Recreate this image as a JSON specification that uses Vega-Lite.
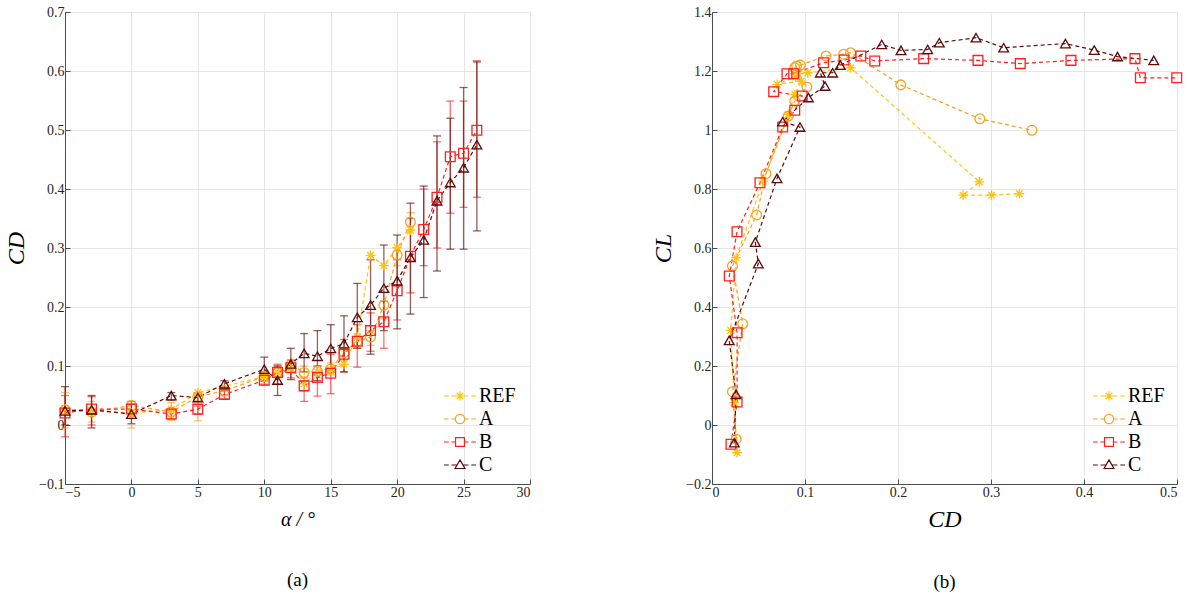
{
  "$schema": "https://vega.github.io/schema/vega-lite/v6.json",
  "autosize": {"type": "pad"},
  "padding": {"left": 4, "top": 4, "right": 5, "bottom": 5},
  "background": "white",
  "datasets": {
    "pts": [
      {"s": "REF", "a": -5, "cd": 0.027, "cl": -0.094},
      {"s": "REF", "a": -3, "cd": 0.024, "cl": 0.076},
      {"s": "REF", "a": 0, "cd": 0.020, "cl": 0.321},
      {"s": "REF", "a": 3, "cd": 0.026, "cl": 0.567},
      {"s": "REF", "a": 5, "cd": 0.055, "cl": 0.827},
      {"s": "REF", "a": 10, "cd": 0.082, "cl": 1.053},
      {"s": "REF", "a": 11, "cd": 0.089, "cl": 1.12},
      {"s": "REF", "a": 12, "cd": 0.096, "cl": 1.166},
      {"s": "REF", "a": 13, "cd": 0.070, "cl": 1.155},
      {"s": "REF", "a": 14, "cd": 0.090, "cl": 1.18},
      {"s": "REF", "a": 15, "cd": 0.093, "cl": 1.19},
      {"s": "REF", "a": 16, "cd": 0.103, "cl": 1.194},
      {"s": "REF", "a": 17, "cd": 0.149, "cl": 1.211},
      {"s": "REF", "a": 18, "cd": 0.2875, "cl": 0.824},
      {"s": "REF", "a": 19, "cd": 0.270, "cl": 0.779},
      {"s": "REF", "a": 20, "cd": 0.3007, "cl": 0.779},
      {"s": "REF", "a": 21, "cd": 0.3305, "cl": 0.784},

      {"s": "A", "a": -5, "cd": 0.026, "cl": -0.048, "lo": -0.005, "hi": 0.055},
      {"s": "A", "a": -3, "cd": 0.022, "cl": 0.113, "lo": 0.005, "hi": 0.04},
      {"s": "A", "a": 0, "cd": 0.033, "cl": 0.343, "lo": -0.005, "hi": 0.04},
      {"s": "A", "a": 3, "cd": 0.022, "cl": 0.539, "lo": 0.008, "hi": 0.038},
      {"s": "A", "a": 5, "cd": 0.048, "cl": 0.712, "lo": 0.007, "hi": 0.05},
      {"s": "A", "a": 7, "cd": 0.058, "cl": 0.852, "lo": 0.05, "hi": 0.065},
      {"s": "A", "a": 10, "cd": 0.082, "cl": 1.047, "lo": 0.07, "hi": 0.09},
      {"s": "A", "a": 11, "cd": 0.089, "cl": 1.098, "lo": 0.08, "hi": 0.1},
      {"s": "A", "a": 12, "cd": 0.102, "cl": 1.146, "lo": 0.09, "hi": 0.11},
      {"s": "A", "a": 13, "cd": 0.089, "cl": 1.211, "lo": 0.075, "hi": 0.1},
      {"s": "A", "a": 14, "cd": 0.091, "cl": 1.217, "lo": 0.08, "hi": 0.1},
      {"s": "A", "a": 15, "cd": 0.095, "cl": 1.22, "lo": 0.085, "hi": 0.105},
      {"s": "A", "a": 16, "cd": 0.1226, "cl": 1.251, "lo": 0.11, "hi": 0.13},
      {"s": "A", "a": 17, "cd": 0.1416, "cl": 1.257, "lo": 0.13, "hi": 0.155},
      {"s": "A", "a": 18, "cd": 0.149, "cl": 1.262, "lo": 0.135, "hi": 0.16},
      {"s": "A", "a": 19, "cd": 0.203, "cl": 1.153, "lo": 0.18, "hi": 0.225},
      {"s": "A", "a": 20, "cd": 0.288, "cl": 1.038, "lo": 0.27, "hi": 0.3},
      {"s": "A", "a": 21, "cd": 0.344, "cl": 0.999, "lo": 0.33, "hi": 0.36},

      {"s": "B", "a": -5, "cd": 0.0204, "cl": -0.065, "lo": -0.02, "hi": 0.05},
      {"s": "B", "a": -3, "cd": 0.027, "cl": 0.078, "lo": 0.0, "hi": 0.048},
      {"s": "B", "a": 0, "cd": 0.027, "cl": 0.313, "lo": 0.015, "hi": 0.04},
      {"s": "B", "a": 3, "cd": 0.0186, "cl": 0.505, "lo": 0.01, "hi": 0.025},
      {"s": "B", "a": 5, "cd": 0.0269, "cl": 0.655, "lo": 0.018, "hi": 0.032},
      {"s": "B", "a": 7, "cd": 0.0516, "cl": 0.821, "lo": 0.045, "hi": 0.058},
      {"s": "B", "a": 10, "cd": 0.076, "cl": 1.01, "lo": 0.068, "hi": 0.085},
      {"s": "B", "a": 11, "cd": 0.089, "cl": 1.067, "lo": 0.07, "hi": 0.103},
      {"s": "B", "a": 12, "cd": 0.097, "cl": 1.115, "lo": 0.08, "hi": 0.11},
      {"s": "B", "a": 13, "cd": 0.0663, "cl": 1.13, "lo": 0.04, "hi": 0.08},
      {"s": "B", "a": 14, "cd": 0.0806, "cl": 1.191, "lo": 0.049, "hi": 0.1},
      {"s": "B", "a": 15, "cd": 0.0878, "cl": 1.191, "lo": 0.053, "hi": 0.12},
      {"s": "B", "a": 16, "cd": 0.12, "cl": 1.228, "lo": 0.09, "hi": 0.145},
      {"s": "B", "a": 17, "cd": 0.142, "cl": 1.237, "lo": 0.098, "hi": 0.17},
      {"s": "B", "a": 18, "cd": 0.16, "cl": 1.251, "lo": 0.125, "hi": 0.19},
      {"s": "B", "a": 19, "cd": 0.175, "cl": 1.234, "lo": 0.13, "hi": 0.21},
      {"s": "B", "a": 20, "cd": 0.2276, "cl": 1.242, "lo": 0.178, "hi": 0.28},
      {"s": "B", "a": 21, "cd": 0.286, "cl": 1.236, "lo": 0.224, "hi": 0.35},
      {"s": "B", "a": 22, "cd": 0.3315, "cl": 1.225, "lo": 0.27, "hi": 0.4},
      {"s": "B", "a": 23, "cd": 0.386, "cl": 1.236, "lo": 0.3, "hi": 0.48},
      {"s": "B", "a": 24, "cd": 0.4548, "cl": 1.242, "lo": 0.359, "hi": 0.549},
      {"s": "B", "a": 25, "cd": 0.4606, "cl": 1.177, "lo": 0.369, "hi": 0.549},
      {"s": "B", "a": 26, "cd": 0.4997, "cl": 1.177, "lo": 0.386, "hi": 0.615},

      {"s": "C", "a": -5, "cd": 0.024, "cl": -0.06, "lo": 0.0, "hi": 0.065},
      {"s": "C", "a": -3, "cd": 0.0258, "cl": 0.104, "lo": -0.005, "hi": 0.05},
      {"s": "C", "a": 0, "cd": 0.0185, "cl": 0.287, "lo": 0.002, "hi": 0.035},
      {"s": "C", "a": 3, "cd": 0.0498, "cl": 0.547, "lo": 0.042, "hi": 0.055},
      {"s": "C", "a": 5, "cd": 0.0466, "cl": 0.62, "lo": 0.04, "hi": 0.052},
      {"s": "C", "a": 7, "cd": 0.0699, "cl": 0.836, "lo": 0.062, "hi": 0.075},
      {"s": "C", "a": 10, "cd": 0.0946, "cl": 1.01, "lo": 0.075, "hi": 0.115},
      {"s": "C", "a": 11, "cd": 0.076, "cl": 1.028, "lo": 0.05, "hi": 0.1},
      {"s": "C", "a": 12, "cd": 0.1036, "cl": 1.11, "lo": 0.077, "hi": 0.13},
      {"s": "C", "a": 13, "cd": 0.1215, "cl": 1.149, "lo": 0.09, "hi": 0.155},
      {"s": "C", "a": 14, "cd": 0.1165, "cl": 1.194, "lo": 0.075, "hi": 0.16},
      {"s": "C", "a": 15, "cd": 0.1297, "cl": 1.194, "lo": 0.09, "hi": 0.17},
      {"s": "C", "a": 16, "cd": 0.138, "cl": 1.22, "lo": 0.09, "hi": 0.185},
      {"s": "C", "a": 17, "cd": 0.1825, "cl": 1.29, "lo": 0.13, "hi": 0.24},
      {"s": "C", "a": 18, "cd": 0.2032, "cl": 1.27, "lo": 0.12, "hi": 0.28},
      {"s": "C", "a": 19, "cd": 0.2319, "cl": 1.273, "lo": 0.16, "hi": 0.305},
      {"s": "C", "a": 20, "cd": 0.2444, "cl": 1.296, "lo": 0.163, "hi": 0.322},
      {"s": "C", "a": 21, "cd": 0.2839, "cl": 1.313, "lo": 0.188, "hi": 0.376},
      {"s": "C", "a": 22, "cd": 0.3136, "cl": 1.279, "lo": 0.216, "hi": 0.405},
      {"s": "C", "a": 23, "cd": 0.38, "cl": 1.293, "lo": 0.261, "hi": 0.49},
      {"s": "C", "a": 24, "cd": 0.411, "cl": 1.271, "lo": 0.298, "hi": 0.52},
      {"s": "C", "a": 25, "cd": 0.436, "cl": 1.249, "lo": 0.298, "hi": 0.572},
      {"s": "C", "a": 26, "cd": 0.475, "cl": 1.236, "lo": 0.329, "hi": 0.617}
    ]
  },
  "config": {
    "view": {"stroke": "#e6e6e6", "strokeWidth": 1},
    "font": "Liberation Serif",
    "axis": {
      "labelFont": "Liberation Serif", "labelFontSize": 14, "labelColor": "#262626",
      "titleFont": "Liberation Serif", "titleFontWeight": "normal", "titleColor": "#000",
      "gridColor": "#e6e6e6", "gridWidth": 1,
      "domainColor": "#4d4d4d", "tickColor": "#4d4d4d", "tickSize": -5, "labelPadding": 6
    },
    "legend": {
      "orient": "none", "legendY": 374,
      "labelFont": "Liberation Serif", "labelFontSize": 20,
      "labelColor": "#000", "symbolStrokeWidth": 1.2, "symbolSize": 88, "rowPadding": 3,
      "labelOffset": 9
    },
    "title": {"font": "Liberation Serif", "fontSize": 19, "fontWeight": "normal", "color": "#000", "orient": "bottom", "offset": 42}
  },
  "resolve": {"legend": {"color": "independent", "shape": "independent"}},
  "spacing": 182,
  "bounds": "flush",
  "hconcat": [
    {
      "width": 465, "height": 472,
      "title": "(a)",
      "data": {"name": "pts"},
      "encoding": {
        "color": {"field": "s", "type": "nominal", "title": null,
          "scale": {"domain": ["REF", "A", "B", "C"], "range": ["#FFC20E", "#F9A11B", "#FF1F1F", "#5C0A0A"]},
          "legend": {"legendX": 385, "labelOffset": 9, "encode": {"symbols": {"update": {
            "fillOpacity": {"value": 0},
            "strokeWidth": {"value": 1.2},
            "stroke": {"signal": "datum.value === 'REF' ? '#FFC20E' : datum.value === 'A' ? '#F9A11B' : datum.value === 'B' ? '#FF1F1F' : '#5C0A0A'"},
            "shape": {"signal": "datum.value === 'REF' ? 'M-3.4,0L-2.4,0M-1.8,0L1.8,0M2.4,0L3.4,0M0,-1L0,1M-0.7,-0.7L0.7,0.7M-0.7,0.7L0.7,-0.7' : datum.value === 'A' ? 'M-3.4,0L-2.4,0M-1.8,0L-1,0M-1,0A1,1 0 1,1 1,0A1,1 0 1,1 -1,0M1,0L1.8,0M2.4,0L3.4,0' : datum.value === 'B' ? 'M-3.4,0L-2.4,0M-1.8,0L-0.95,0M-0.95,-0.95L0.95,-0.95L0.95,0.95L-0.95,0.95ZM0.95,0L1.8,0M2.4,0L3.4,0' : 'M-3.4,0L-2.4,0M-1.8,0L-0.7,0M0,-1.1L1.05,0.75L-1.05,0.75ZM0.7,0L1.8,0M2.4,0L3.4,0'"}
          }}}}},
        "x": {"field": "a", "type": "quantitative",
          "scale": {"domain": [-5, 30], "nice": false},
          "axis": {"values": [-5, 0, 5, 10, 15, 20, 25, 30], "title": "α / °", "titleFontSize": 20, "titleFontStyle": "italic", "titlePadding": 10}}
      },
      "layer": [
        {
          "transform": [{"filter": "isValid(datum.lo)"}],
          "mark": {"type": "errorbar", "ticks": {"size": 8}, "thickness": 1.3, "opacity": 0.65},
          "encoding": {
            "y": {"field": "lo", "type": "quantitative", "title": "CD"},
            "y2": {"field": "hi"}
          }
        },
        {
          "mark": {"type": "line", "strokeDash": [4, 3], "strokeWidth": 1.2},
          "encoding": {
            "y": {"field": "cd", "type": "quantitative", "title": "CD"},
            "order": {"field": "a", "type": "quantitative"}
          }
        },
        {
          "mark": {"type": "point", "filled": false, "strokeWidth": 1.3, "size": 95, "opacity": 1},
          "encoding": {
            "y": {"field": "cd", "type": "quantitative",
              "scale": {"domain": [-0.1, 0.7], "nice": false},
              "axis": {"values": [-0.1, 0, 0.1, 0.2, 0.3, 0.4, 0.5, 0.6, 0.7], "format": "~g", "title": "CD", "titleFontSize": 24, "titleFontStyle": "italic", "titlePadding": 10}},
            "shape": {"field": "s", "type": "nominal", "legend": null,
              "scale": {"range": ["circle", "square", "triangle-up", "M-1,0L1,0M0,-1L0,1M-0.7,-0.7L0.7,0.7M-0.7,0.7L0.7,-0.7"]}}
          }
        }
      ]
    },
    {
      "width": 465, "height": 472,
      "title": "(b)",
      "data": {"name": "pts"},
      "encoding": {
        "color": {"field": "s", "type": "nominal", "title": null,
          "scale": {"domain": ["REF", "A", "B", "C"], "range": ["#FFC20E", "#F9A11B", "#FF1F1F", "#5C0A0A"]},
          "legend": {"legendX": 387, "labelOffset": 9, "encode": {"symbols": {"update": {
            "fillOpacity": {"value": 0},
            "strokeWidth": {"value": 1.2},
            "stroke": {"signal": "datum.value === 'REF' ? '#FFC20E' : datum.value === 'A' ? '#F9A11B' : datum.value === 'B' ? '#FF1F1F' : '#5C0A0A'"},
            "shape": {"signal": "datum.value === 'REF' ? 'M-3.4,0L-2.4,0M-1.8,0L1.8,0M2.4,0L3.4,0M0,-1L0,1M-0.7,-0.7L0.7,0.7M-0.7,0.7L0.7,-0.7' : datum.value === 'A' ? 'M-3.4,0L-2.4,0M-1.8,0L-1,0M-1,0A1,1 0 1,1 1,0A1,1 0 1,1 -1,0M1,0L1.8,0M2.4,0L3.4,0' : datum.value === 'B' ? 'M-3.4,0L-2.4,0M-1.8,0L-0.95,0M-0.95,-0.95L0.95,-0.95L0.95,0.95L-0.95,0.95ZM0.95,0L1.8,0M2.4,0L3.4,0' : 'M-3.4,0L-2.4,0M-1.8,0L-0.7,0M0,-1.1L1.05,0.75L-1.05,0.75ZM0.7,0L1.8,0M2.4,0L3.4,0'"}
          }}}}},
        "x": {"field": "cd", "type": "quantitative",
          "scale": {"domain": [0, 0.5], "nice": false},
          "axis": {"values": [0, 0.1, 0.2, 0.3, 0.4, 0.5], "format": "~g", "title": "CD", "titleFontSize": 24, "titleFontStyle": "italic", "titlePadding": 8}},
        "y": {"field": "cl", "type": "quantitative",
          "scale": {"domain": [-0.2, 1.4], "nice": false},
          "axis": {"values": [-0.2, 0, 0.2, 0.4, 0.6, 0.8, 1, 1.2, 1.4], "format": "~g", "title": "CL", "titleFontSize": 24, "titleFontStyle": "italic", "titlePadding": 10}}
      },
      "layer": [
        {
          "mark": {"type": "line", "strokeDash": [4, 3], "strokeWidth": 1.2},
          "encoding": {"order": {"field": "a", "type": "quantitative"}}
        },
        {
          "mark": {"type": "point", "filled": false, "strokeWidth": 1.3, "size": 95, "opacity": 1},
          "encoding": {
            "shape": {"field": "s", "type": "nominal", "legend": null,
              "scale": {"range": ["circle", "square", "triangle-up", "M-1,0L1,0M0,-1L0,1M-0.7,-0.7L0.7,0.7M-0.7,0.7L0.7,-0.7"]}}
          }
        }
      ]
    }
  ]
}
